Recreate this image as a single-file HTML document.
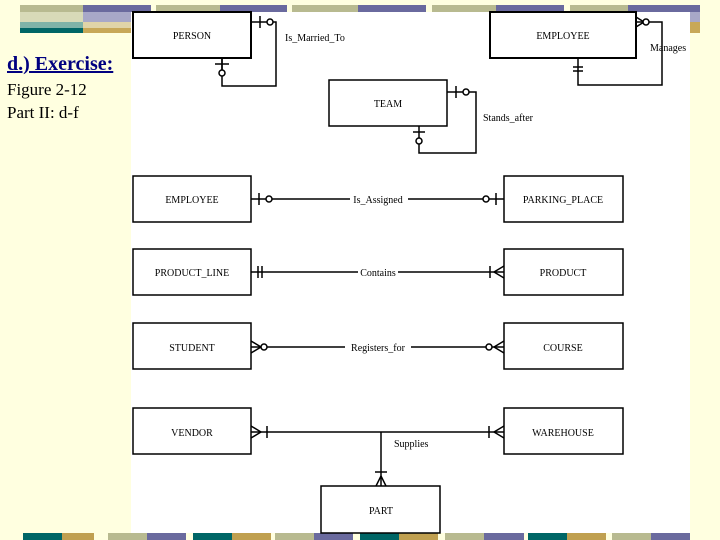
<!DOCTYPE html>
<html><head><style>
body{margin:0;width:720px;height:540px;overflow:hidden;background:#FFFFE0;position:relative;font-family:"Liberation Serif",serif}
.t{position:absolute;left:7px;font-size:17px;line-height:20px;color:#000}
</style></head><body>
<svg width="720" height="540" style="position:absolute;left:0;top:0">
<g>
<rect x="20" y="5" width="63" height="7" fill="#B8BA90"/><rect x="83" y="5" width="68" height="7" fill="#6A6A9E"/>
<rect x="156" y="5" width="64" height="7" fill="#B8BA90"/><rect x="220" y="5" width="67" height="7" fill="#6A6A9E"/>
<rect x="292" y="5" width="66" height="7" fill="#B8BA90"/><rect x="358" y="5" width="68" height="7" fill="#6A6A9E"/>
<rect x="432" y="5" width="64" height="7" fill="#B8BA90"/><rect x="496" y="5" width="68" height="7" fill="#6A6A9E"/>
<rect x="570" y="5" width="58" height="7" fill="#B8BA90"/><rect x="628" y="5" width="72" height="7" fill="#6A6A9E"/>
<rect x="20" y="12" width="63" height="10" fill="#D8DAB8"/><rect x="83" y="12" width="48" height="10" fill="#A8A8C8"/>
<rect x="20" y="22" width="63" height="6" fill="#7FB3A8"/><rect x="83" y="22" width="48" height="6" fill="#E0D4A8"/>
<rect x="20" y="28" width="63" height="5" fill="#006666"/><rect x="83" y="28" width="48" height="5" fill="#C8A858"/>
<rect x="690" y="12" width="10" height="10" fill="#A8A8C8"/><rect x="690" y="22" width="10" height="11" fill="#C8A858"/>
</g>
<g>
<rect x="23" y="533" width="39" height="7" fill="#006666"/><rect x="62" y="533" width="32" height="7" fill="#C0A050"/>
<rect x="108" y="533" width="39" height="7" fill="#B8BA90"/><rect x="147" y="533" width="39" height="7" fill="#6A6A9E"/>
<rect x="193" y="533" width="39" height="7" fill="#006666"/><rect x="232" y="533" width="39" height="7" fill="#C0A050"/>
<rect x="275" y="533" width="39" height="7" fill="#B8BA90"/><rect x="314" y="533" width="39" height="7" fill="#6A6A9E"/>
<rect x="360" y="533" width="39" height="7" fill="#006666"/><rect x="399" y="533" width="39" height="7" fill="#C0A050"/>
<rect x="445" y="533" width="39" height="7" fill="#B8BA90"/><rect x="484" y="533" width="40" height="7" fill="#6A6A9E"/>
<rect x="528" y="533" width="39" height="7" fill="#006666"/><rect x="567" y="533" width="39" height="7" fill="#C0A050"/>
<rect x="612" y="533" width="39" height="7" fill="#B8BA90"/><rect x="651" y="533" width="39" height="7" fill="#6A6A9E"/>
</g>
<rect x="131" y="12" width="559" height="521" fill="#fff"/>
<g fill="#fff" stroke="#000" stroke-width="1.5">
<rect x="133" y="12" width="118" height="46" stroke-width="2"/>
<rect x="490" y="12" width="146" height="46" stroke-width="2"/>
<rect x="329" y="80" width="118" height="46"/>
<rect x="133" y="176" width="118" height="46"/><rect x="504" y="176" width="119" height="46"/>
<rect x="133" y="249" width="118" height="46"/><rect x="504" y="249" width="119" height="46"/>
<rect x="133" y="323" width="118" height="46"/><rect x="504" y="323" width="119" height="46"/>
<rect x="133" y="408" width="118" height="46"/><rect x="504" y="408" width="119" height="46"/>
<rect x="321" y="486" width="119" height="47"/>
</g>
<g fill="none" stroke="#000" stroke-width="1.5">
<polyline points="251,22 276,22 276,86 222,86 222,58"/>
<line x1="260" y1="16" x2="260" y2="28"/><circle cx="270" cy="22" r="3" fill="#fff"/>
<line x1="215" y1="64" x2="229" y2="64"/><line x1="222" y1="58" x2="222" y2="70"/><circle cx="222" cy="73" r="3" fill="#fff"/>
<polyline points="636,22 662,22 662,85 578,85 578,58"/>
<line x1="636" y1="17" x2="644" y2="22"/><line x1="636" y1="27" x2="644" y2="22"/><circle cx="646" cy="22" r="3" fill="#fff"/>
<line x1="573" y1="67" x2="583" y2="67"/><line x1="573" y1="71" x2="583" y2="71"/>
<polyline points="447,92 476,92 476,153 419,153 419,126"/>
<line x1="456" y1="86" x2="456" y2="98"/><circle cx="466" cy="92" r="3" fill="#fff"/>
<line x1="413" y1="132" x2="425" y2="132"/><circle cx="419" cy="141" r="3" fill="#fff"/>
<line x1="251" y1="199" x2="504" y2="199"/>
<line x1="259" y1="193" x2="259" y2="205"/><circle cx="269" cy="199" r="3" fill="#fff"/>
<line x1="496" y1="193" x2="496" y2="205"/><circle cx="486" cy="199" r="3" fill="#fff"/>
<line x1="251" y1="272" x2="504" y2="272"/>
<line x1="258" y1="266" x2="258" y2="278"/><line x1="262" y1="266" x2="262" y2="278"/>
<line x1="490" y1="266" x2="490" y2="278"/><line x1="504" y1="266" x2="494" y2="272"/><line x1="504" y1="278" x2="494" y2="272"/>
<line x1="251" y1="347" x2="504" y2="347"/>
<line x1="251" y1="341" x2="261" y2="347"/><line x1="251" y1="353" x2="261" y2="347"/><circle cx="264" cy="347" r="3" fill="#fff"/>
<line x1="504" y1="341" x2="494" y2="347"/><line x1="504" y1="353" x2="494" y2="347"/><circle cx="489" cy="347" r="3" fill="#fff"/>
<line x1="251" y1="432" x2="504" y2="432"/>
<line x1="251" y1="426" x2="261" y2="432"/><line x1="251" y1="438" x2="261" y2="432"/><line x1="267" y1="426" x2="267" y2="438"/>
<line x1="504" y1="426" x2="494" y2="432"/><line x1="504" y1="438" x2="494" y2="432"/><line x1="489" y1="426" x2="489" y2="438"/>
<line x1="381" y1="432" x2="381" y2="486"/>
<line x1="375" y1="472" x2="387" y2="472"/><line x1="376" y1="486" x2="381" y2="476"/><line x1="386" y1="486" x2="381" y2="476"/>
</g>
<g font-family="Liberation Serif,serif" font-size="10" text-anchor="middle" fill="#000">
<text x="192" y="39">PERSON</text><text x="563" y="39">EMPLOYEE</text><text x="388" y="107">TEAM</text>
<text x="192" y="203">EMPLOYEE</text><text x="563" y="203">PARKING_PLACE</text>
<text x="192" y="276">PRODUCT_LINE</text><text x="563" y="276">PRODUCT</text>
<text x="192" y="351">STUDENT</text><text x="563" y="351">COURSE</text>
<text x="192" y="436">VENDOR</text><text x="563" y="436">WAREHOUSE</text>
<text x="381" y="514">PART</text>
</g>
<g font-family="Liberation Serif,serif" font-size="10" fill="#000">
<text x="285" y="41">Is_Married_To</text><text x="650" y="51">Manages</text>
<text x="483" y="121">Stands_after</text><text x="394" y="447">Supplies</text>
</g>
<g font-family="Liberation Serif,serif" font-size="10" fill="#000" text-anchor="middle">
<rect x="350" y="194" width="58" height="10" fill="#fff"/><text x="378" y="203">Is_Assigned</text>
<rect x="358" y="267" width="40" height="10" fill="#fff"/><text x="378" y="276">Contains</text>
<rect x="345" y="342" width="66" height="10" fill="#fff"/><text x="378" y="351">Registers_for</text>
</g>
</svg>
<div class="t" style="top:54px;font-size:20px;font-weight:bold;color:#000080;text-decoration:underline">d.) Exercise:</div>
<div class="t" style="top:80px">Figure 2-12</div>
<div class="t" style="top:103px">Part II: d-f</div>
</body></html>
